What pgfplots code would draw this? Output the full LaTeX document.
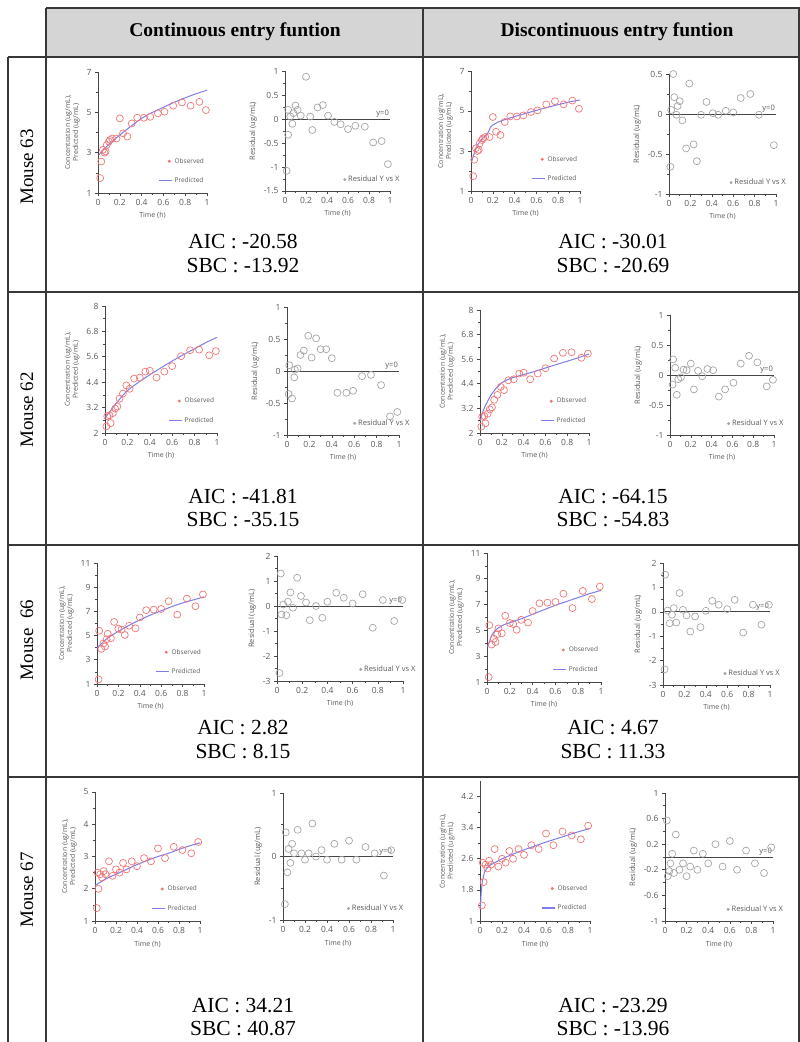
\documentclass[border=0pt]{standalone}
\usepackage{pgfplots}
\pgfplotsset{compat=1.18}
\usepackage{pgfplotstable}
\usepackage{fontspec}
\setmainfont{Liberation Serif}
\setsansfont{Open Sans}

\definecolor{obscol}{RGB}{240,118,118}
\definecolor{predcol}{RGB}{125,125,235}
\definecolor{rescol}{RGB}{165,165,165}
\definecolor{axcol}{RGB}{70,70,70}
\definecolor{txtcol}{RGB}{90,90,90}
\definecolor{gridcol}{RGB}{55,55,55}
\definecolor{headfill}{RGB}{213,213,213}

% observed concentrations, one table per mouse (same in both columns)
\pgfplotstableread{
t c
0.02 1.74
0.03 2.56
0.045 3.14
0.06 3.0
0.07 3.06
0.08 3.38
0.1 3.55
0.11 3.63
0.13 3.7
0.17 3.7
0.2 4.7
0.23 3.96
0.27 3.8
0.31 4.45
0.36 4.73
0.42 4.73
0.48 4.78
0.55 4.95
0.61 5.03
0.69 5.33
0.77 5.49
0.85 5.33
0.93 5.52
0.99 5.11
}\obsA
\pgfplotstableread{
t c
0.012 2.31
0.02 2.79
0.04 2.83
0.05 2.47
0.07 2.94
0.09 3.15
0.11 3.25
0.13 3.62
0.16 3.86
0.19 4.25
0.22 4.09
0.26 4.57
0.31 4.62
0.36 4.9
0.4 4.94
0.46 4.62
0.53 4.9
0.6 5.16
0.68 5.63
0.76 5.91
0.84 5.94
0.93 5.67
0.99 5.87
}\obsB
\pgfplotstableread{
t c
0.015 1.38
0.02 5.4
0.04 3.9
0.06 4.35
0.075 4.1
0.09 4.7
0.1 5.15
0.13 4.77
0.16 6.13
0.2 5.57
0.23 5.5
0.26 5.05
0.3 5.82
0.36 5.6
0.4 6.5
0.46 7.1
0.53 7.15
0.6 7.2
0.67 7.84
0.75 6.73
0.84 8.06
0.92 7.43
0.99 8.4
}\obsC
\pgfplotstableread{
t c
0.017 1.4
0.025 2.5
0.033 2.0
0.05 2.45
0.067 2.35
0.083 2.55
0.1 2.45
0.133 2.85
0.167 2.4
0.2 2.6
0.233 2.5
0.267 2.8
0.3 2.6
0.35 2.85
0.4 2.7
0.467 2.95
0.533 2.85
0.6 3.25
0.667 2.95
0.75 3.3
0.833 3.2
0.917 3.1
0.983 3.45
}\obsD

\pgfplotsset{
  cell/.style={scale only axis, enlargelimits=false, clip=false, anchor=south west,
    axis x line*=bottom, axis y line*=left,
    xmin=0, xmax=1, xtick={0,0.2,0.4,0.6,0.8,1},
    minor x tick num=1, minor y tick num=1,
    tick align=outside, major tick length=3pt, minor tick length=1.8pt,
    tick style={axcol, line width=0.6pt},
    axis line style={axcol, line width=0.9pt},
    /pgf/number format/assume math mode=true,
    tick label style={font=\fontsize{8.5}{9}\selectfont\sffamily, text=txtcol},
    xlabel={Time (h)},
    xlabel style={font=\fontsize{7}{8}\selectfont\sffamily, text=txtcol},
    legend cell align=left},
  conc/.style={cell,
    ylabel={Concentration (ug/mL),\\Predicted (ug/mL)},
    ylabel style={align=center, font=\fontsize{7}{8}\selectfont\sffamily, text=txtcol},
    legend style={draw=none, fill=none, font=\fontsize{6.5}{7}\selectfont\sffamily, text=txtcol,
      at={(1.02,0.04)}, anchor=south east, row sep=9pt}},
  res/.style={cell,
    ylabel={Residual (ug/mL)},
    ylabel style={font=\fontsize{7.5}{8}\selectfont\sffamily, text=txtcol},
    legend style={draw=none, fill=none, font=\fontsize{7.5}{8}\selectfont\sffamily, text=txtcol,
      at={(1.14,0.03)}, anchor=south east}},
  obs/.style={only marks, mark=o, mark size=3.5pt, obscol, line width=0.7pt,
    legend image code/.code={\fill[obscol] (0.35cm,0cm) circle (1.1pt);}},
  pred/.style={no marks, predcol, line width=1pt,
    legend image code/.code={\draw[draw=predcol, line width=1.1pt] (0cm,0cm) -- (0.45cm,0cm);}},
  resm/.style={only marks, mark=o, mark size=3.5pt, rescol, line width=0.7pt,
    legend image code/.code={\fill[rescol] (0.2cm,0cm) circle (1.1pt);}},
  zero/.style={axcol, line width=0.8pt, forget plot},
}
\newcommand{\yzero}{\node[font=\fontsize{7.5}{8}\selectfont\sffamily, text=txtcol, anchor=south east, inner sep=1pt] at (axis cs:1,0) {y=0};}

\begin{document}
\begin{tikzpicture}[x=1pt,y=1pt]
\useasboundingbox (0,0) rectangle (800,1042);
\fill[headfill] (46,985) rectangle (799,1034);
\begin{scope}[line width=2.4pt, draw=gridcol]
\draw (46,1034) -- (800,1034);
\draw (8,985) -- (800,985);
\draw (8,750) -- (800,750);
\draw (8,497) -- (800,497);
\draw (8,265) -- (800,265);
\draw (8,985) -- (8,0);
\draw (46,1034) -- (46,0);
\draw (423,1034) -- (423,0);
\draw (798.8,1034) -- (798.8,0);
\end{scope}

\node[font=\bfseries\fontsize{19.5}{22}\selectfont] at (235,1010) {Continuous entry funtion};
\node[font=\bfseries\fontsize{19.5}{22}\selectfont] at (617,1010) {Discontinuous entry funtion};

\begin{scope}[font=\fontsize{19}{22}\selectfont]
\node[rotate=90] at (27,875) {Mouse 63};
\node[rotate=90] at (27,632) {Mouse 62};
\node[rotate=90] at (27,402) {Mouse~~66};
\node[rotate=90] at (27,152) {Mouse 67};
\end{scope}

\begin{scope}[font=\fontsize{21.5}{24}\selectfont]
\node at (243,800) {AIC : -20.58};
\node at (243,776) {SBC : -13.92};
\node at (613,800) {AIC : -30.01};
\node at (613,776) {SBC : -20.69};
\node at (243,545) {AIC : -41.81};
\node at (243,522) {SBC : -35.15};
\node at (613,545) {AIC : -64.15};
\node at (613,522) {SBC : -54.83};
\node at (243,314) {AIC : 2.82};
\node at (243,290) {SBC : 8.15};
\node at (613,314) {AIC : 4.67};
\node at (613,290) {SBC : 11.33};
\node at (243,36) {AIC : 34.21};
\node at (243,13) {SBC : 40.87};
\node at (613,36) {AIC : -23.29};
\node at (613,13) {SBC : -13.96};
\end{scope}

% ---------- Mouse 63 ----------
\begin{axis}[conc, at={(98pt,849pt)}, width=109pt, height=121pt, ymin=1, ymax=7, ytick={1,3,5,7}]
\addplot[obs] table[x=t,y=c] {\obsA}; \addlegendentry{Observed}
\addplot[pred, smooth] coordinates {(0.01,2.9)(0.05,3.15)(0.1,3.4)(0.15,3.65)(0.2,3.88)(0.3,4.3)(0.4,4.7)(0.5,5.0)(0.6,5.25)(0.7,5.5)(0.8,5.72)(0.9,5.92)(1.0,6.1)}; \addlegendentry{Predicted}
\end{axis}
\begin{axis}[res, at={(285pt,851pt)}, width=105pt, height=120pt, ymin=-1.5, ymax=1, ytick={-1.5,-1,-0.5,0,0.5,1}]
\addplot[zero] coordinates {(0,0)(1,0)};
\addplot[resm] coordinates {(0.016,-1.08)(0.03,-0.33)(0.03,0.19)(0.05,0.05)(0.07,-0.1)(0.08,0.12)(0.1,0.28)(0.12,0.19)(0.15,0.07)(0.2,0.88)(0.24,0.05)(0.26,-0.23)(0.31,0.24)(0.36,0.29)(0.41,0.07)(0.47,-0.06)(0.53,-0.11)(0.6,-0.21)(0.67,-0.14)(0.76,-0.16)(0.84,-0.49)(0.92,-0.46)(0.98,-0.94)}; \addlegendentry{Residual Y vs X}
\yzero
\end{axis}
\begin{axis}[conc, at={(471pt,851pt)}, width=109pt, height=120pt, ymin=1, ymax=7, ytick={1,3,5,7}]
\addplot[obs] table[x=t,y=c] {\obsA}; \addlegendentry{Observed}
\addplot[pred] coordinates {(0.005,2.45)(0.03,2.9)(0.06,3.3)(0.1,3.6)(0.13,3.75)(0.16,3.95)(0.18,4.2)(0.2,4.3)(0.25,4.45)(0.3,4.55)(0.4,4.72)(0.5,4.88)(0.6,5.03)(0.7,5.18)(0.8,5.32)(0.9,5.45)(1.0,5.55)}; \addlegendentry{Predicted}
\end{axis}
\begin{axis}[res, at={(669pt,848pt)}, width=107pt, height=120pt, ymin=-1, ymax=0.5, ytick={-1,-0.5,0,0.5}]
\addplot[zero] coordinates {(0,0)(1,0)};
\addplot[resm] coordinates {(0.013,-0.66)(0.02,0.05)(0.04,0.5)(0.05,0.21)(0.07,-0.01)(0.08,0.1)(0.1,0.16)(0.125,-0.08)(0.16,-0.43)(0.19,0.38)(0.23,-0.38)(0.26,-0.59)(0.3,-0.01)(0.35,0.15)(0.41,0.01)(0.46,-0.01)(0.53,0.04)(0.6,0.02)(0.67,0.2)(0.76,0.25)(0.84,-0.01)(0.98,-0.39)}; \addlegendentry{Residual Y vs X}
\yzero
\end{axis}

% ---------- Mouse 62 ----------
\begin{axis}[conc, at={(105pt,609pt)}, width=112pt, height=127pt, ymin=2, ymax=8, ytick={2,3.2,4.4,5.6,6.8,8}]
\addplot[obs] table[x=t,y=c] {\obsB}; \addlegendentry{Observed}
\addplot[pred, smooth] coordinates {(0,2.7)(0.02,2.85)(0.05,3.05)(0.1,3.4)(0.15,3.72)(0.2,4.0)(0.3,4.4)(0.4,4.75)(0.5,5.08)(0.6,5.4)(0.7,5.7)(0.8,5.98)(0.9,6.27)(1.0,6.52)}; \addlegendentry{Predicted}
\end{axis}
\begin{axis}[res, at={(287pt,607pt)}, width=112pt, height=128pt, ymin=-1, ymax=1, ytick={-1,-0.5,0,0.5,1}]
\addplot[zero] coordinates {(0,0)(1,0)};
\addplot[resm] coordinates {(0.015,-0.36)(0.02,0.09)(0.045,-0.43)(0.065,-0.1)(0.07,0.02)(0.095,0.04)(0.12,0.25)(0.15,0.32)(0.19,0.55)(0.22,0.21)(0.26,0.51)(0.3,0.34)(0.35,0.34)(0.4,0.2)(0.45,-0.34)(0.53,-0.34)(0.59,-0.31)(0.67,-0.08)(0.75,-0.06)(0.84,-0.22)(0.92,-0.71)(0.985,-0.64)}; \addlegendentry{Residual Y vs X}
\yzero
\end{axis}
\begin{axis}[conc, at={(480pt,609pt)}, width=109pt, height=123pt, ymin=2, ymax=8, ytick={2,3.2,4.4,5.6,6.8,8}]
\addplot[obs] table[x=t,y=c] {\obsB}; \addlegendentry{Observed}
\addplot[pred] coordinates {(0.003,2.6)(0.02,2.95)(0.05,3.35)(0.1,3.85)(0.15,4.2)(0.2,4.45)(0.25,4.6)(0.3,4.7)(0.4,4.85)(0.5,5.0)(0.6,5.17)(0.7,5.34)(0.8,5.5)(0.9,5.67)(1.0,5.85)}; \addlegendentry{Predicted}
\end{axis}
\begin{axis}[res, at={(670pt,607pt)}, width=104pt, height=120pt, ymin=-1, ymax=1, ytick={-1,-0.5,0,0.5,1}]
\addplot[zero] coordinates {(0,0)(1,0)};
\addplot[resm] coordinates {(0.025,-0.16)(0.03,0.26)(0.05,0.12)(0.065,-0.33)(0.08,-0.07)(0.105,-0.04)(0.13,0.09)(0.16,0.08)(0.2,0.19)(0.23,-0.24)(0.27,0.07)(0.31,-0.02)(0.36,0.1)(0.415,0.08)(0.47,-0.36)(0.53,-0.24)(0.61,-0.13)(0.68,0.19)(0.76,0.32)(0.84,0.21)(0.93,-0.19)(0.99,-0.08)}; \addlegendentry{Residual Y vs X}
\yzero
\end{axis}

% ---------- Mouse 66 ----------
\begin{axis}[conc, at={(97pt,358pt)}, width=107pt, height=121pt, ymin=1, ymax=11, ytick={1,3,5,7,9,11}]
\addplot[obs] table[x=t,y=c] {\obsC}; \addlegendentry{Observed}
\addplot[pred, smooth] coordinates {(0,4.0)(0.05,4.4)(0.1,4.8)(0.2,5.35)(0.3,5.85)(0.4,6.3)(0.5,6.7)(0.6,7.05)(0.7,7.4)(0.8,7.7)(0.9,7.95)(1.0,8.2)}; \addlegendentry{Predicted}
\end{axis}
\begin{axis}[res, at={(277pt,361pt)}, width=126pt, height=125pt, ymin=-3, ymax=2, ytick={-3,-2,-1,0,1,2}]
\addplot[zero] coordinates {(0,0)(1,0)};
\addplot[resm] coordinates {(0.02,-2.68)(0.03,1.3)(0.035,-0.34)(0.05,0.06)(0.074,-0.37)(0.087,0.17)(0.106,0.54)(0.127,-0.07)(0.16,1.13)(0.19,0.4)(0.23,0.14)(0.26,-0.57)(0.31,0)(0.36,-0.47)(0.4,0.17)(0.47,0.53)(0.53,0.33)(0.6,0.1)(0.68,0.47)(0.76,-0.87)(0.84,0.24)(0.93,-0.6)(0.995,0.24)}; \addlegendentry{Residual Y vs X}
\yzero
\end{axis}
\begin{axis}[conc, at={(487pt,360pt)}, width=114pt, height=129pt, ymin=1, ymax=11, ytick={1,3,5,7,9,11}]
\addplot[obs] table[x=t,y=c] {\obsC}; \addlegendentry{Observed}
\addplot[pred] coordinates {(0.005,3.7)(0.02,4.1)(0.04,4.6)(0.07,5.0)(0.1,5.2)(0.15,5.45)(0.2,5.6)(0.3,5.9)(0.4,6.25)(0.5,6.6)(0.6,6.95)(0.7,7.25)(0.8,7.55)(0.9,7.85)(1.0,8.1)}; \addlegendentry{Predicted}
\end{axis}
\begin{axis}[res, at={(663pt,357pt)}, width=107pt, height=122pt, ymin=-3, ymax=2, ytick={-3,-2,-1,0,1,2}]
\addplot[zero] coordinates {(0,0)(1,0)};
\addplot[resm] coordinates {(0.015,-2.36)(0.02,1.52)(0.043,0.05)(0.062,-0.47)(0.084,-0.12)(0.1,0.15)(0.124,-0.44)(0.155,0.77)(0.186,0.08)(0.22,-0.15)(0.255,-0.81)(0.3,-0.19)(0.35,-0.63)(0.4,0.04)(0.46,0.45)(0.52,0.29)(0.6,0.11)(0.67,0.49)(0.75,-0.85)(0.84,0.29)(0.92,-0.53)(0.99,0.29)}; \addlegendentry{Residual Y vs X}
\yzero
\end{axis}

% ---------- Mouse 67 ----------
\begin{axis}[conc, at={(95pt,121pt)}, width=105pt, height=129pt, ymin=1, ymax=5, ytick={1,2,3,4,5}]
\addplot[obs] table[x=t,y=c] {\obsD}; \addlegendentry{Observed}
\addplot[pred, smooth] coordinates {(0,2.1)(0.1,2.3)(0.2,2.45)(0.3,2.6)(0.4,2.75)(0.5,2.88)(0.6,3.0)(0.7,3.1)(0.8,3.22)(0.9,3.33)(1.0,3.42)}; \addlegendentry{Predicted}
\end{axis}
\begin{axis}[res, at={(283pt,122pt)}, width=110pt, height=127pt, ymin=-1, ymax=1, ytick={-1,0,1}]
\addplot[zero] coordinates {(0,0)(1,0)};
\addplot[resm] coordinates {(0.017,-0.75)(0.025,0.38)(0.04,-0.25)(0.05,0.12)(0.067,-0.1)(0.083,0.2)(0.1,0.05)(0.133,0.42)(0.167,0.05)(0.2,-0.05)(0.233,0.05)(0.267,0.52)(0.3,0.0)(0.35,0.1)(0.4,-0.05)(0.467,0.2)(0.533,-0.05)(0.6,0.25)(0.667,-0.05)(0.75,0.15)(0.833,0.05)(0.917,-0.3)(0.983,0.1)}; \addlegendentry{Residual Y vs X}
\yzero
\end{axis}
\begin{axis}[conc, at={(480pt,121pt)}, width=110pt, height=140pt, ymin=1, ymax=4.6, ytick={1,1.8,2.6,3.4,4.2}]
\addplot[obs] table[x=t,y=c] {\obsD}; \addlegendentry{Observed}
\addplot[pred] coordinates {(0.003,1.3)(0.01,1.7)(0.02,2.0)(0.04,2.25)(0.07,2.38)(0.1,2.45)(0.2,2.6)(0.3,2.72)(0.4,2.83)(0.5,2.93)(0.6,3.03)(0.7,3.12)(0.8,3.21)(0.9,3.3)(1.0,3.38)}; \addlegendentry{Predicted}
\end{axis}
\begin{axis}[res, at={(665pt,121pt)}, width=108pt, height=128pt, ymin=-1, ymax=1, ytick={-1,-0.6,-0.2,0.2,0.6,1}]
\addplot[zero] coordinates {(0,0)(1,0)};
\addplot[resm] coordinates {(0.017,0.57)(0.025,-0.3)(0.04,-0.22)(0.05,-0.1)(0.067,0.05)(0.083,-0.25)(0.1,0.35)(0.133,-0.2)(0.167,-0.1)(0.2,-0.3)(0.233,-0.15)(0.267,0.1)(0.3,-0.2)(0.35,0.05)(0.4,-0.1)(0.467,0.2)(0.533,-0.15)(0.6,0.25)(0.667,-0.2)(0.75,0.1)(0.833,-0.1)(0.917,-0.25)(0.983,0.15)}; \addlegendentry{Residual Y vs X}
\yzero
\end{axis}
\end{tikzpicture}
\end{document}
